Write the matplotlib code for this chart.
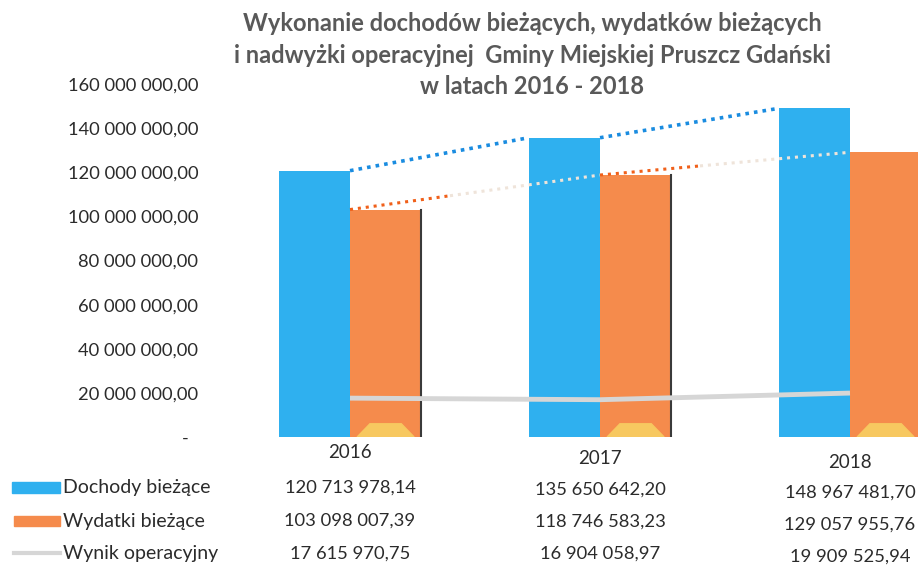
import matplotlib
matplotlib.use("Agg")
import matplotlib.pyplot as plt
from matplotlib.patches import Rectangle, Polygon
from matplotlib.lines import Line2D
import matplotlib.transforms as mtransforms

years = ["2016", "2017", "2018"]
dochody = [120713978.14, 135650642.20, 148967481.70]
wydatki = [103098007.39, 118746583.23, 129057955.76]
wynik = [17615970.75, 16904058.97, 19909525.94]
series_names = ["Dochody bieżące", "Wydatki bieżące", "Wynik operacyjny"]
yticks = [0, 20e6, 40e6, 60e6, 80e6, 100e6, 120e6, 140e6, 160e6]
title = ("Wykonanie dochodów bieżących, wydatków bieżących\n"
         "i nadwyżki operacyjnej  Gminy Miejskiej Pruszcz Gdański\n"
         "w latach 2016 - 2018")

BLUE = "#2fb0ef"
ORANGE = "#f58b4c"
GREY = "#d6d6d6"
TXT = "#2b2b2b"
FONT = ["Lato", "DejaVu Sans"]
plt.rcParams["font.family"] = FONT


def fmt(v):
    s = f"{v:,.2f}"
    return s.replace(",", " ").replace(".", ",")


W, H = 918, 567
fig = plt.figure(figsize=(W / 100, H / 100), dpi=100)
left_px, right_px, top_px, bottom_px = 240, 918, 84, 437
ax = fig.add_axes([left_px / W, 1 - bottom_px / H, (right_px - left_px) / W,
                   (bottom_px - top_px) / H])
ax.set_xlim(-0.44, 2.272)
ax.set_ylim(0, 160e6)
for s in ax.spines.values():
    s.set_visible(False)

x = list(range(len(years)))
bw = 0.285
xb = [i - bw / 2 for i in x]
xo = [i + bw / 2 for i in x]
ax.bar(xb, dochody, width=bw, color=BLUE, zorder=2)
ax.bar(xo, wydatki, width=bw, color=ORANGE, zorder=2)
# dark shadow edge on right of orange bars
for i in range(2):
    ax.plot([xo[i] + bw / 2, xo[i] + bw / 2], [0, wydatki[i]], color="#3a3a3a",
            lw=1.5, zorder=3)

# small yellow marks at the bottom of orange bars (scan artefact look)
for i in x:
    c = xo[i]
    ax.add_patch(Polygon([[c - bw * 0.4, 0], [c + bw * 0.4, 0],
                          [c + bw * 0.22, 6e6], [c - bw * 0.22, 6e6]],
                         closed=True, color="#f7c860", zorder=3))

# dotted series lines
for i in range(len(x) - 1):
    ax.plot([xb[i] + bw / 2, xb[i + 1] - bw / 2], [dochody[i], dochody[i + 1]],
            color="#1a8ce0", lw=2.6, ls=(0, (1, 1.4)), zorder=4)
    x0, x1 = xo[i] - bw / 2, xo[i + 1] - bw / 2
    y0, y1 = wydatki[i], wydatki[i + 1]
    xm = x0 + 0.4 * (x1 - x0)
    ym = y0 + 0.4 * (y1 - y0)
    ax.plot([x0, xm], [y0, ym], color="#f0601a", lw=2.2, ls=(0, (1, 1.6)), zorder=4)
    ax.plot([xm, x1], [ym, y1], color="#efe4da", lw=2.2, ls=(0, (1, 1.6)), zorder=4)

# operating result line
ax.plot(x, wynik, color=GREY, lw=3.5, zorder=5, solid_capstyle="butt")

ax.set_xticks([])
ax.set_yticks(yticks)
ax.set_yticklabels(["-  " if v == 0 else fmt(v) for v in yticks],
                   fontsize=13.2, color=TXT)
ax.tick_params(axis="y", length=0, pad=30)

fig.text(532 / W, 1 - 12 / H, title, ha="center", va="top", fontsize=17,
         fontweight="bold", color="#595959", linespacing=1.45)

# data table
trans = mtransforms.blended_transform_factory(ax.transData, fig.transFigure)
year_y = [452, 458, 462]
row_y = [[488, 490, 493], [521, 522, 525], [554, 554, 557]]
for i, yr in enumerate(years):
    ax.text(x[i], 1 - year_y[i] / H, yr, transform=trans, ha="center",
            va="center", fontsize=13.5, color=TXT, clip_on=False)
rows = [dochody, wydatki, wynik]
for r, vals in enumerate(rows):
    for i, v in enumerate(vals):
        ax.text(x[i], 1 - row_y[r][i] / H, fmt(v), transform=trans,
                ha="center", va="center", fontsize=13.2, color=TXT, clip_on=False)
    fig.text(63 / W, 1 - row_y[r][0] / H, series_names[r], ha="left",
             va="center", fontsize=14, color=TXT)

# legend keys
fig.patches.append(Rectangle((12 / W, 1 - 493 / H), 48 / W, 11 / H,
                             transform=fig.transFigure, color=BLUE))
fig.patches.append(Rectangle((14 / W, 1 - 526 / H), 46 / W, 10 / H,
                             transform=fig.transFigure, color=ORANGE))
fig.lines.append(Line2D([14 / W, 60 / W], [1 - 553 / H, 1 - 553 / H],
                        transform=fig.transFigure, color=GREY, lw=3))

fig.savefig("out.png", dpi=100, facecolor="white")
